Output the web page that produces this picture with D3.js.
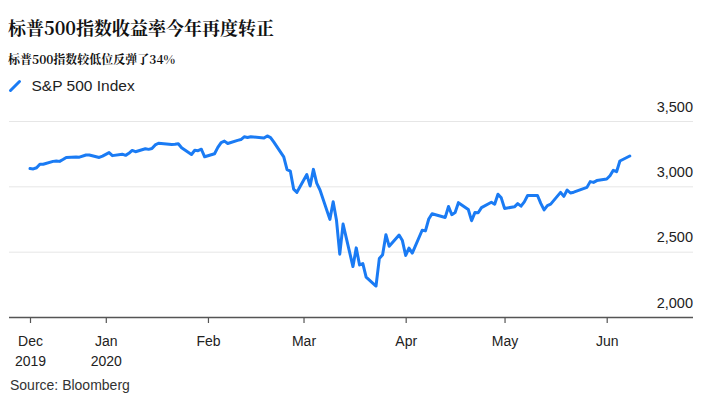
<!DOCTYPE html>
<html><head><meta charset="utf-8">
<script src="https://cdn.jsdelivr.net/npm/d3@7"></script>
<style>
body{margin:0;background:#fff;}
svg{display:block;}
</style></head>
<body><svg id="c" width="720" height="401"></svg>
<script>
const dates = [
"2019-12-09","2019-12-10","2019-12-11","2019-12-12","2019-12-13","2019-12-16","2019-12-17","2019-12-18","2019-12-19","2019-12-20",
"2019-12-23","2019-12-24","2019-12-26","2019-12-27","2019-12-30","2019-12-31",
"2020-01-02","2020-01-03","2020-01-06","2020-01-07","2020-01-08","2020-01-09","2020-01-10","2020-01-13","2020-01-14","2020-01-15",
"2020-01-16","2020-01-17","2020-01-21","2020-01-22","2020-01-23","2020-01-24","2020-01-27","2020-01-28","2020-01-29","2020-01-30","2020-01-31",
"2020-02-03","2020-02-04","2020-02-05","2020-02-06","2020-02-07","2020-02-10","2020-02-11","2020-02-12","2020-02-13","2020-02-14",
"2020-02-18","2020-02-19","2020-02-20","2020-02-21","2020-02-24","2020-02-25","2020-02-26","2020-02-27","2020-02-28",
"2020-03-02","2020-03-03","2020-03-04","2020-03-05","2020-03-06","2020-03-09","2020-03-10","2020-03-11","2020-03-12","2020-03-13",
"2020-03-16","2020-03-17","2020-03-18","2020-03-19","2020-03-20","2020-03-23","2020-03-24","2020-03-25","2020-03-26","2020-03-27",
"2020-03-30","2020-03-31",
"2020-04-01","2020-04-02","2020-04-03","2020-04-06","2020-04-07","2020-04-08","2020-04-09","2020-04-13","2020-04-14","2020-04-15",
"2020-04-16","2020-04-17","2020-04-20","2020-04-21","2020-04-22","2020-04-23","2020-04-24","2020-04-27","2020-04-28","2020-04-29","2020-04-30",
"2020-05-01","2020-05-04","2020-05-05","2020-05-06","2020-05-07","2020-05-08","2020-05-11","2020-05-12","2020-05-13","2020-05-14",
"2020-05-15","2020-05-18","2020-05-19","2020-05-20","2020-05-21","2020-05-22","2020-05-26","2020-05-27","2020-05-28","2020-05-29",
"2020-06-01","2020-06-02","2020-06-03","2020-06-04","2020-06-05","2020-06-08"];
const closes = [
3136,3133,3142,3169,3169,3191,3193,3191,3205,3221,
3224,3223,3240,3240,3221,3231,
3258,3235,3246,3237,3253,3275,3265,3288,3283,3289,
3317,3330,3321,3322,3326,3295,3244,3276,3273,3284,3226,
3249,3298,3335,3346,3328,3352,3358,3379,3374,3380,
3370,3386,3373,3338,3226,3128,3116,2979,2954,
3090,3003,3130,3024,2972,2747,2882,2741,2481,2711,
2386,2529,2398,2409,2305,2237,2447,2476,2630,2541,
2627,2585,
2471,2527,2489,2664,2659,2750,2790,2762,2846,2783,
2800,2875,2823,2737,2799,2798,2837,2878,2863,2940,2912,
2831,2843,2868,2848,2881,2930,2930,2870,2820,2853,
2864,2954,2923,2972,2949,2955,2992,3036,3030,3044,
3056,3081,3123,3112,3194,3232];
const tickDates = ["2019-12-09","2020-01-01","2020-02-01","2020-03-01","2020-04-01","2020-05-01","2020-06-01"];
const tickLabels = [["Dec","2019"],["Jan","2020"],["Feb"],["Mar"],["Apr"],["May"],["Jun"]];
const yTicks = [2000,2500,3000,3500];
const title = "标普500指数收益率今年再度转正";
const subtitle = "标普500指数较低位反弹了34%";
const seriesName = "S&P 500 Index";
const source = "Source: Bloomberg";

const parse = d3.utcParse("%Y-%m-%d");
const data = dates.map((d,i)=>({date:parse(d), v:closes[i]}));
const svg = d3.select("#c");
const left = 9, right = 693;
const x = d3.scaleUtc().domain([parse("2019-12-09"), parse("2020-06-01")]).range([30, 606.7]);
const y = d3.scaleLinear().domain([2000,3500]).range([317,121]);

const sans = "'Liberation Sans', Arial, Helvetica, sans-serif";
const cjk = "'Noto Serif CJK SC','Noto Sans CJK SC', sans-serif";

svg.append("text").attr("x",8).attr("y",35).attr("font-family",cjk).attr("font-weight","bold")
  .attr("font-size",18).attr("fill","#111").text(title);
svg.append("text").attr("x",8).attr("y",63.5).attr("font-family",cjk).attr("font-weight","bold")
  .attr("font-size",12).attr("fill","#111").text(subtitle);

// legend
svg.append("line").attr("x1",10.5).attr("y1",90.5).attr("x2",19.5).attr("y2",81.5)
  .attr("stroke","#1a7bf4").attr("stroke-width",3).attr("stroke-linecap","round");
svg.append("text").attr("x",31.5).attr("y",90.5).attr("font-family",sans).attr("font-size",15.5)
  .attr("fill","#222").text(seriesName);

// y gridlines & labels
const yAxis = svg.append("g").attr("transform",`translate(${left},0)`)
  .call(d3.axisRight(y).tickValues(yTicks).tickSize(right-left).tickFormat(d3.format(",")));
yAxis.select(".domain").remove();
yAxis.selectAll(".tick line").attr("stroke","#e6e6e6").attr("stroke-width",1)
  .style("display",d=>d===2000?"none":null);
yAxis.selectAll(".tick text").attr("x",right-left).attr("dy","-10").attr("text-anchor","end")
  .attr("font-family",sans).attr("font-size",14.5).attr("fill","#222");

// x axis
const xAxis = svg.append("g").attr("transform","translate(0,317)")
  .call(d3.axisBottom(x).tickValues(tickDates.map(parse)).tickSize(6).tickFormat(""));
xAxis.select(".domain").attr("d",`M${left},0.5H${right}`).attr("stroke","#555").attr("stroke-width",1.5);
xAxis.selectAll(".tick line").attr("stroke","#555").attr("stroke-width",1.2);
xAxis.selectAll(".tick").each(function(d,i){
  const t = d3.select(this).append("text").attr("text-anchor","middle").attr("font-family",sans)
    .attr("font-size",14).attr("fill","#222");
  tickLabels[i].forEach((s,j)=>t.append("tspan").attr("x",0).attr("y",29+j*20).text(s));
});

// line
svg.append("path").datum(data)
  .attr("d", d3.line().x(d=>x(d.date)).y(d=>y(d.v)))
  .attr("fill","none").attr("stroke","#1a7bf4").attr("stroke-width",3)
  .attr("stroke-linejoin","round").attr("stroke-linecap","round");

svg.append("text").attr("x",10).attr("y",390).attr("font-family",sans).attr("font-size",14)
  .attr("fill","#333").text(source);
</script></body></html>
